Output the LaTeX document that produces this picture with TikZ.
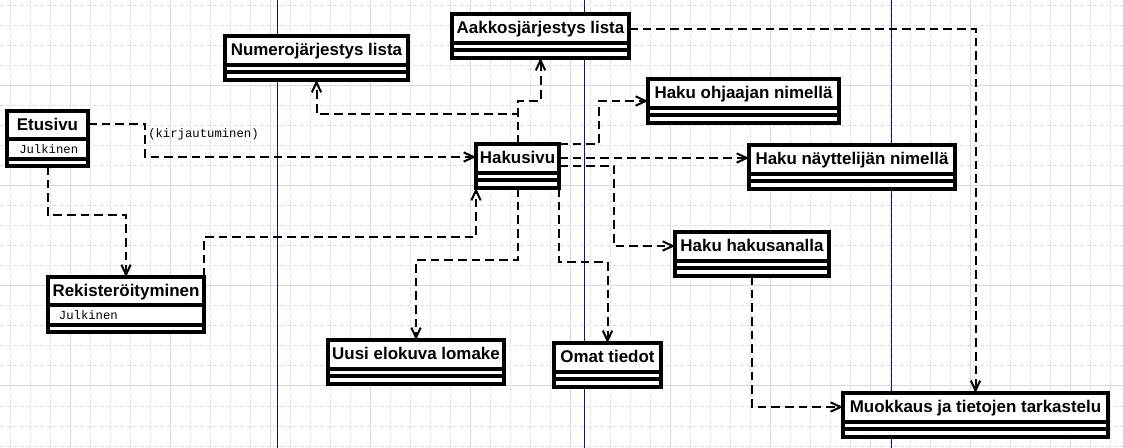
\documentclass[tikz,border=0pt]{standalone}
\usepackage{fontspec}
\setmainfont{Liberation Sans}
\setmonofont{Liberation Mono}
\usepackage{tikz}
\usetikzlibrary{arrows.meta}
\definecolor{gridgray}{RGB}{222,224,224}
\definecolor{gridline}{RGB}{210,220,220}
\definecolor{pagenavy}{RGB}{20,20,120}

\begin{document}
\begin{tikzpicture}[x=0.75pt,y=-0.75pt,
  cls/.style={draw, fill=white, line width=2.4pt, outer sep=0pt,
    inner xsep=2pt, inner ysep=2.8pt, anchor=north west, minimum width=#1*0.75pt,
    text height=11.7pt, text depth=15.7pt, font=\fontsize{12.7}{15}\selectfont\bfseries,
    path picture={
      \draw[line width=2.4pt] ([yshift=6pt]path picture bounding box.south west)
        -- ([yshift=6pt]path picture bounding box.south east);
      \draw[line width=2.4pt] ([yshift=11.25pt]path picture bounding box.south west)
        -- ([yshift=11.25pt]path picture bounding box.south east);}},
  clsattr/.style={cls=#1, text depth=24pt,
    path picture={
      \draw[line width=2.4pt] ([yshift=5.25pt]path picture bounding box.south west)
        -- ([yshift=5.25pt]path picture bounding box.south east);
      \draw[line width=2.4pt] ([yshift=20.25pt]path picture bounding box.south west)
        -- ([yshift=20.25pt]path picture bounding box.south east);}},
  attr/.style={anchor=base west, inner sep=0pt, font=\ttfamily\fontsize{9.2}{11}\selectfont},
  dep/.style={line width=1.5pt, dash pattern=on 6.5pt off 3.75pt,
    -{Straight Barb[length=7.5pt,width=7pt]}}]
  \fill[white] (0,0) rectangle (1123,448);
  \useasboundingbox (0,0) rectangle (1123,448);
  \foreach \x in {10,30,...,1110}
    \draw[gridgray, line width=0.75pt, dash pattern=on 3pt off 2pt] (\x,0) -- (\x,448);
  \foreach \y in {6,26,...,446}
    \draw[gridgray, line width=0.75pt, dash pattern=on 3pt off 2pt] (0,\y) -- (1123,\y);
  \foreach \x in {70,170,...,1070}
    \draw[gridline, line width=0.75pt] (\x,0) -- (\x,448);
  \foreach \y in {86,186,286,386}
    \draw[gridline, line width=0.75pt] (0,\y) -- (1123,\y);
  \foreach \x in {277,584,891}
    \draw[pagenavy, line width=0.75pt] (\x,0) -- (\x,448);

  \node[clsattr=81] (etu) at (7,111) {Etusivu};
  \node[attr] (etuattr) at ([xshift=9pt,yshift=9.75pt]etu.south west) {Julkinen};
  \node[clsattr=156] (rek) at (48,277) {Rekisteröityminen};
  \node[attr] (rekattr) at ([xshift=8pt,yshift=9.75pt]rek.south west) {Julkinen};
  \node[cls=183] (num) at (225,36) {Numerojärjestys lista};
  \node[cls=177] (aak) at (452,14) {Aakkosjärjestys lista};
  \node[cls=83] (haku) at (476,144) {Hakusivu};
  \node[cls=191] (ohj) at (648,79) {Haku ohjaajan nimellä};
  \node[cls=206] (nay) at (749,145) {Haku näyttelijän nimellä};
  \node[cls=154] (hks) at (675,232) {Haku hakusanalla};
  \node[cls=176] (uus) at (328,340) {Uusi elokuva lomake};
  \node[cls=107] (oma) at (554,343) {Omat tiedot};
  \node[cls=265] (muo) at (843,393) {Muokkaus ja tietojen tarkastelu};
  \node[anchor=west, inner sep=0pt, font=\ttfamily\fontsize{9.2}{11}\selectfont] (kirj) at (148,134) {(kirjautuminen)};

  \draw[dep] (etu.east |- 0,124) -- (145,124) -- (145,157) -- (haku.west |- 0,157);
  \draw[dep] (etu.south) -- ++(0,49) -| (rek.north);
  \draw[dep] (rek.north east) -- ++(0,-40) -| (haku.south west);
  \draw[dep] (haku.north) -- ++(0,-43) -| (aak.south);
  \draw[dep] (haku.north) -- ++(0,-30) -| (num.south);
  \draw[dep] (haku.north east) -- ++(40,0) |- (ohj.west);
  \draw[dep] (haku.east |- 0,158) -- (nay.west |- 0,158);
  \draw[dep] (haku.east) -- ++(55,0) |- (hks.west |- 0,246);
  \draw[dep] (haku.south) -- ++(0,72) -| (uus.north);
  \draw[dep] (haku.south east) -- ++(0,74) -| (oma.north);
  \draw[dep] (aak.east |- 0,29) -| (muo.north);
  \draw[dep] (hks.south) |- (muo.west |- 0,407);
\end{tikzpicture}
\end{document}
